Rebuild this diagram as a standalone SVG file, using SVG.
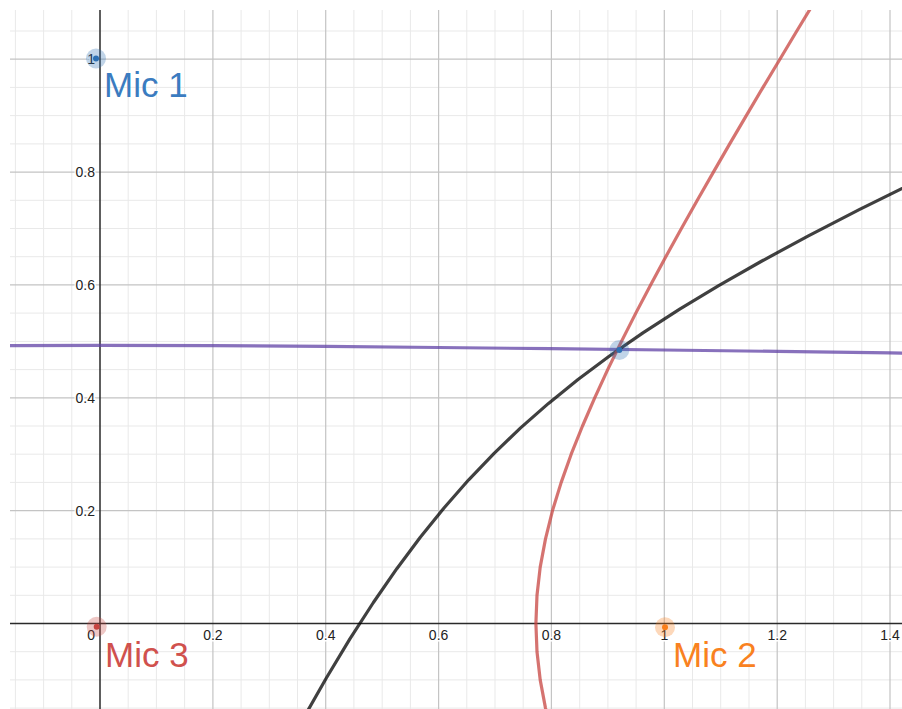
<svg xmlns="http://www.w3.org/2000/svg" width="902" height="709" viewBox="0 0 902 709">
<style>
.minor{stroke:#e9e9e9;stroke-width:1;fill:none}
.major{stroke:#c4c4c4;stroke-width:1.2;fill:none}
.axis{stroke:#2a2a2a;stroke-width:1.5;fill:none}
.tick{font-family:"Liberation Sans",Arial,sans-serif;font-size:14px;fill:#222;stroke:#fff;stroke-width:3;paint-order:stroke}
.xt{text-anchor:middle}
.yt{text-anchor:end}
.curve{fill:none;stroke-width:3.2;stroke-linejoin:round;stroke-linecap:round;stroke-opacity:0.75}
.lab{font-family:"Liberation Sans",Arial,sans-serif;font-size:35px}
</style>
<defs>
<clipPath id="plot"><rect x="10" y="10" width="892" height="699"/></clipPath>
</defs>
<rect x="0" y="0" width="902" height="709" fill="#fff"/>
<g id="grid" clip-path="url(#plot)">
<path class="minor" d="M15.4 10V709M43.6 10V709M71.8 10V709M128.2 10V709M156.4 10V709M184.6 10V709M241.1 10V709M269.3 10V709M297.5 10V709M353.9 10V709M382.2 10V709M410.4 10V709M466.8 10V709M495 10V709M523.2 10V709M579.7 10V709M607.9 10V709M636.1 10V709M692.5 10V709M720.7 10V709M749 10V709M805.4 10V709M833.6 10V709M861.8 10V709M10 708.1H902M10 679.9H902M10 651.7H902M10 595.3H902M10 567.1H902M10 538.9H902M10 482.4H902M10 454.2H902M10 426H902M10 369.6H902M10 341.4H902M10 313.1H902M10 256.7H902M10 228.5H902M10 200.3H902M10 143.9H902M10 115.6H902M10 87.4H902M10 31H902"/>
<path class="major" d="M212.9 10V709M325.7 10V709M438.6 10V709M551.4 10V709M664.3 10V709M777.2 10V709M890 10V709M10 510.6H902M10 397.8H902M10 284.9H902M10 172.1H902M10 59.2H902"/>
<path class="axis" d="M100 10V709M10 623.5H902"/>
</g>
<g id="tick-labels">
<text class="tick yt" x="95" y="64">1</text>
<text class="tick yt" x="95" y="177">0.8</text>
<text class="tick yt" x="95" y="290">0.6</text>
<text class="tick yt" x="95" y="403">0.4</text>
<text class="tick yt" x="95" y="516">0.2</text>
<text class="tick yt" x="95" y="640">0</text>
<text class="tick xt" x="212.9" y="640">0.2</text>
<text class="tick xt" x="325.7" y="640">0.4</text>
<text class="tick xt" x="438.6" y="640">0.6</text>
<text class="tick xt" x="551.4" y="640">0.8</text>
<text class="tick xt" x="664.3" y="640">1</text>
<text class="tick xt" x="777.2" y="640">1.2</text>
<text class="tick xt" x="890" y="640">1.4</text>
</g>
<g id="curves" clip-path="url(#plot)">
<polyline id="purple-curve" class="curve" stroke="#6042a6" stroke-opacity="0.55" points="-13,345.7 100,345.3 212.9,345.6 325.7,346.4 438.6,347.5 551.4,348.7 664.3,350 777.2,351.4 890,352.9 1003,354.3"/>
<polyline id="black-curve" class="curve" stroke="#000" points="301.8,721.1 326.2,678.3 349.9,638.9 373.4,602.5 396.8,568.7 420.3,537.2 444.2,507.7 468.7,479.8 494.1,453.3 520.6,427.9 548.5,403.4 578,379.5 609.5,356 643.3,332.6 679.7,309.1 719.1,285.4 761.9,261 808.4,235.9 859.2,209.7 914.8,182.2"/>
<polyline id="red-curve" class="curve" stroke="#c74440" points="552.5,736.4 545.5,708.1 540.2,679.9 537,651.7 535.9,623.5 537,595.3 540.2,567.1 545.5,538.9 552.5,510.6 561.2,482.4 571.2,454.2 582.5,426 594.7,397.8 607.7,369.6 621.5,341.4 635.8,313.1 650.6,284.9 665.8,256.7 681.4,228.5 697.3,200.3 713.4,172.1 729.7,143.9 746.3,115.6 763,87.4 779.9,59.2 796.8,31 813.9,2.8"/>
</g>
<g id="mic1">
<circle cx="96" cy="58.5" r="10" fill="#2d70b3" fill-opacity="0.3"/>
<circle cx="96" cy="58.5" r="3" fill="#2d70b3"/>
<text class="lab" x="104" y="97.3" fill="#3b7cc0">Mic 1</text>
</g>
<g id="mic3">
<circle cx="96.7" cy="626.7" r="10" fill="#c74440" fill-opacity="0.3"/>
<circle cx="96.7" cy="626.7" r="3" fill="#c74440"/>
<text class="lab" x="105" y="667.3" fill="#d0514d">Mic 3</text>
</g>
<g id="mic2">
<circle cx="665" cy="627.3" r="10" fill="#fa7e19" fill-opacity="0.3"/>
<circle cx="665" cy="627.3" r="3" fill="#fa7e19"/>
<text class="lab" x="673" y="666.7" fill="#f98120">Mic 2</text>
</g>
<g id="source">
<circle cx="619.3" cy="350" r="10" fill="#2d70b3" fill-opacity="0.3"/>
<circle cx="619.3" cy="350" r="3" fill="#2d70b3"/>
</g>
</svg>
